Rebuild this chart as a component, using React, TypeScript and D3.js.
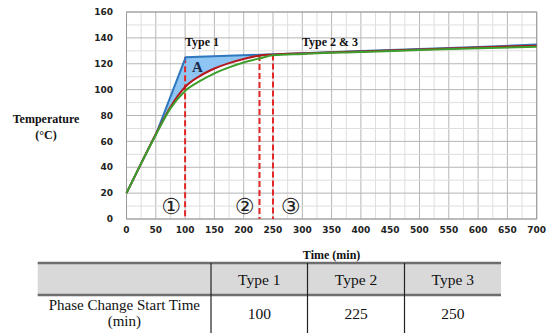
import { scaleLinear, line as d3_line, area as d3_area, curveMonotoneX, range } from "d3"

// time axis (min)
const times = [0, 25, 50, 75, 100, 125, 150, 175, 200, 228, 250, 300, 400, 500, 600, 700]
// type 2 (red) and type 3 (green) temperatures
const type2 = [20, 43, 65.5, 86.5, 102, 110.5, 116.3, 120.5, 123.7, 126.4, 127, 128, 129.5, 131, 132.5, 134]
const type3 = [20, 43, 65, 85.5, 99, 106.5, 112.6, 117.2, 121, 124.2, 126.5, 127.6, 129.1, 130.6, 132, 133.2]
// type 1 (blue) goes straight up to the phase change plateau
const type1Times = [0, 25, 52, 101, 228, 250, 300, 400, 500, 600, 700]
const type1 = [20, 43, 67.5, 125, 127, 127.3, 128.2, 129.8, 131.4, 133, 134.8]

// phase change markers
const markerTimes = [100, 227, 250]
const markerTops = [125, 126.8, 127.2]
const markerLabels = ["①", "②", "③"]

// table
const tableTypes = ["Type 1", "Type 2", "Type 3"]
const phaseStart = [100, 225, 250]

const xTicks = range(0, 701, 50)
const yTicks = range(0, 161, 20)

export default function App() {
  const margin = { left: 126.5, right: 22.3, top: 12, bottom: 114 }
  const W = 559
  const H = 333
  const x = scaleLinear().domain([0, 700]).range([margin.left, W - margin.right])
  const y = scaleLinear().domain([0, 160]).range([H - margin.bottom, margin.top])

  const pts = (xs: number[], ys: number[]) => xs.map((t, i) => [t, ys[i]] as [number, number])
  const red = pts(times, type2)
  const green = pts(times, type3)
  const blue = pts(type1Times, type1)

  const smooth = d3_line<[number, number]>()
    .x((d) => x(d[0]))
    .y((d) => y(d[1]))
    .curve(curveMonotoneX)
  const straight = d3_line<[number, number]>()
    .x((d) => x(d[0]))
    .y((d) => y(d[1]))

  // area under the blue line, clipped to above the red curve => region A
  const blueArea = d3_area<[number, number]>()
    .x((d) => x(d[0]))
    .y0(y(0))
    .y1((d) => y(d[1]))(blue)
  const aboveRed = d3_area<[number, number]>()
    .x((d) => x(d[0]))
    .y0(y(160))
    .y1((d) => y(d[1]))
    .curve(curveMonotoneX)(red)

  const minorX = range(0, 701, 25)
  const minorY = range(0, 161, 10)

  // table geometry
  const tLeft = 37.7
  const cols = [tLeft, 211, 307.5, 404.5, 501]
  const tTop = 263
  const tHead = 295

  return (
    <svg width={W} height={H} style={{ position: "absolute", left: 0, top: 0 }}>
      <rect width={W} height={H} fill="#fff" />
      <defs>
        <clipPath id="above-red">
          <path d={aboveRed ?? ""} />
        </clipPath>
        <clipPath id="a-range">
          <rect x={x(40)} y={y(160)} width={x(228) - x(40)} height={y(0) - y(160)} />
        </clipPath>
      </defs>

      {/* grid */}
      {minorX.map((v) => (
        <line key={"mx" + v} x1={x(v)} x2={x(v)} y1={y(0)} y2={y(160)} stroke={v % 50 === 0 ? "#b5b5b5" : "#dedede"} strokeWidth={1} />
      ))}
      {minorY.map((v) => (
        <line key={"my" + v} x1={x(0)} x2={x(700)} y1={y(v)} y2={y(v)} stroke={v % 20 === 0 ? "#b5b5b5" : "#dedede"} strokeWidth={1} />
      ))}
      <rect x={x(0)} y={y(160)} width={x(700) - x(0)} height={y(0) - y(160)} fill="none" stroke="#9a9a9a" />

      {/* tick labels */}
      {yTicks.map((v) => (
        <text key={"yt" + v} x={113} y={y(v)} dy="0.35em" textAnchor="end" fontFamily="DejaVu Sans" fontWeight="bold" fontSize={9} fill="#222">
          {v}
        </text>
      ))}
      {xTicks.map((v) => (
        <text key={"xt" + v} x={x(v)} y={232.5} textAnchor="middle" fontFamily="DejaVu Sans" fontWeight="bold" fontSize={9} fill="#222">
          {v}
        </text>
      ))}

      {/* region A */}
      <g clipPath="url(#a-range)">
        <path d={blueArea ?? ""} clipPath="url(#above-red)" fill="#8ec5f2" />
      </g>

      {/* phase change markers */}
      {markerTimes.map((t, i) => (
        <line key={"mk" + t} x1={x(t)} x2={x(t)} y1={y(markerTops[i])} y2={y(0)} stroke="#e32626" strokeWidth={2} strokeDasharray="6,3" />
      ))}

      {/* curves */}
      <path d={straight(blue) ?? ""} fill="none" stroke="#2f78bd" strokeWidth={2} />
      <path d={smooth(red) ?? ""} fill="none" stroke="#b3191e" strokeWidth={2} />
      <path d={smooth(green) ?? ""} fill="none" stroke="#3c9e2c" strokeWidth={2} />

      {/* annotations */}
      {markerLabels.map((s, i) => (
        <text key={s} x={[171, 244.5, 290.5][i]} y={206} dy="0.36em" textAnchor="middle" fontFamily="DejaVu Sans" fontSize={22} fill="#222">
          {s}
        </text>
      ))}
      <text x={185} y={46} fontFamily="Liberation Serif" fontWeight="bold" fontSize={12} fill="#111">Type 1</text>
      <text x={302} y={46} fontFamily="Liberation Serif" fontWeight="bold" fontSize={12} fill="#111">Type 2 &amp; 3</text>
      <text x={192} y={72} fontFamily="Liberation Serif" fontWeight="bold" fontSize={15} fill="#1a2a4a">A</text>

      {/* axis titles */}
      <text x={46} y={123} textAnchor="middle" fontFamily="Liberation Serif" fontWeight="bold" fontSize={12} fill="#111">Temperature</text>
      <text x={46} y={139} textAnchor="middle" fontFamily="Liberation Serif" fontWeight="bold" fontSize={12} fill="#111">(°C)</text>
      <text x={(x(0) + x(700)) / 2} y={259} textAnchor="middle" fontFamily="Liberation Serif" fontWeight="bold" fontSize={12} fill="#111">Time (min)</text>

      {/* table */}
      <rect x={tLeft} y={tTop} width={cols[4] - tLeft} height={tHead - tTop} fill="#d9d9d9" />
      <line x1={tLeft} x2={cols[4]} y1={tTop} y2={tTop} stroke="#6e6e6e" strokeWidth={2.5} />
      <line x1={tLeft} x2={cols[4]} y1={tHead} y2={tHead} stroke="#6e6e6e" strokeWidth={2.5} />
      {cols.slice(1, 4).map((c) => (
        <line key={"c" + c} x1={c} x2={c} y1={tTop} y2={H} stroke="#222" strokeWidth={1.2} />
      ))}
      {tableTypes.map((t, i) => (
        <text key={t} x={(cols[i + 1] + cols[i + 2]) / 2} y={285} textAnchor="middle" fontFamily="Liberation Serif" fontSize={15.5} fill="#111">
          {t}
        </text>
      ))}
      <text x={(cols[0] + cols[1]) / 2} y={310} textAnchor="middle" fontFamily="Liberation Serif" fontSize={15} fill="#111">Phase Change Start Time</text>
      <text x={(cols[0] + cols[1]) / 2} y={325.5} textAnchor="middle" fontFamily="Liberation Serif" fontSize={15} fill="#111">(min)</text>
      {phaseStart.map((v, i) => (
        <text key={"v" + i} x={(cols[i + 1] + cols[i + 2]) / 2} y={319} textAnchor="middle" fontFamily="Liberation Serif" fontSize={15.5} fill="#111">
          {v}
        </text>
      ))}
    </svg>
  )
}
